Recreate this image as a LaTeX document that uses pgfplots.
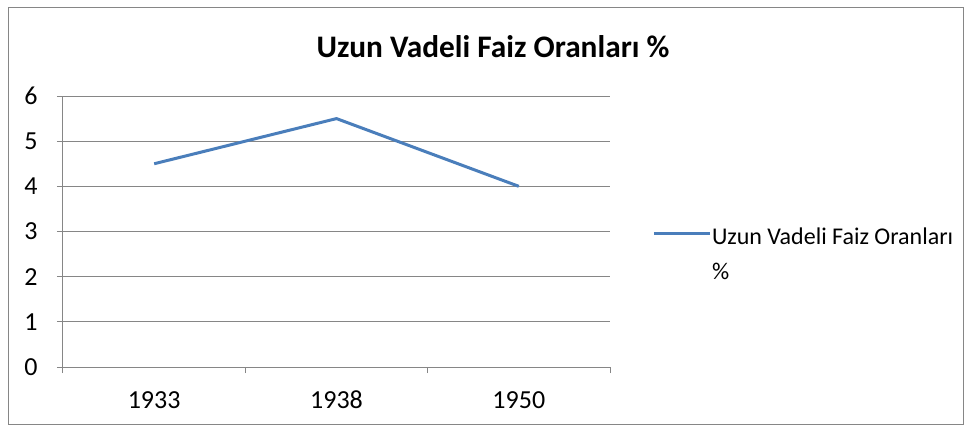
\documentclass[border=0pt]{standalone}
\usepackage{fontspec}
\setmainfont{Carlito}
\usepackage{pgfplots}
\pgfplotsset{compat=1.18}
\definecolor{ln}{RGB}{74,126,187}
\definecolor{gr}{RGB}{134,134,134}
\begin{document}
\begin{tikzpicture}[x=0.75pt,y=0.75pt]
\path[use as bounding box] (0,0) rectangle (971,433);
\draw[gr, line width=0.75pt] (8,9) rectangle (963,425);
\node[font=\fontsize{23.5}{28}\selectfont\bfseries] at (493,386) {Uzun Vadeli Faiz Oranları \%};
\begin{axis}[at={(47.25pt,49.5pt)}, anchor=south west, scale only axis,
  width=410.25pt, height=203.25pt,
  xmin=0, xmax=3, ymin=0, ymax=6,
  axis lines*=left, axis line style={draw=gr, line width=0.75pt, -},
  ytick={0,1,2,3,4,5,6}, ymajorgrids, grid style={gr, line width=0.75pt},
  xtick={0.5,1.5,2.5}, xticklabels={1933,1938,1950},
  minor xtick={0,1,2,3},
  tick align=outside, major tick length=4.5pt, minor tick length=4.5pt,
  major x tick style={draw=none}, minor x tick style={gr, line width=0.75pt},
  y tick style={gr, line width=0.75pt},
  /pgf/number format/assume math mode=true,
  tick label style={font=\fontsize{19.5}{22}\selectfont, black},
  xticklabel style={anchor=center, yshift=-20pt, text height=13pt, text depth=0pt},
  yticklabel style={xshift=-11pt},
  legend style={draw=none, fill=none, at={(1.077,0.493)}, anchor=west,
    font=\fontsize{18}{26}\selectfont, inner xsep=0pt, nodes={inner xsep=0.5pt}},
  legend cell align=left,
  legend image code/.code={\draw[#1] (0pt,0pt) -- (42pt,0pt);},
]
\addplot[ln, line width=2.25pt, mark=none] coordinates {(0.5,4.5) (1.5,5.5) (2.5,4)};
\addlegendentry{\begin{tabular}[t]{@{}l@{}}Uzun Vadeli Faiz Oranları\\\%\end{tabular}}
\end{axis}
\end{tikzpicture}
\end{document}
